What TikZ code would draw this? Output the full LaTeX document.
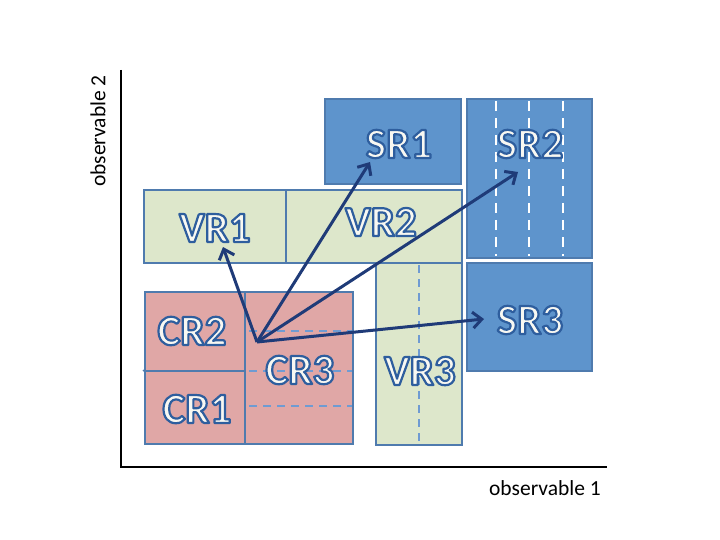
\documentclass[tikz,border=0pt]{standalone}
\usepackage{fontspec}
\setmainfont{Carlito}
\usetikzlibrary{arrows.meta}
\definecolor{srfill}{HTML}{5E94CC}
\definecolor{vrfill}{HTML}{DDE7CB}
\definecolor{crfill}{HTML}{E0A7A6}
\definecolor{boxline}{HTML}{4F7BAE}
\definecolor{dashblue}{HTML}{6F9BD2}
\definecolor{arrowcol}{HTML}{1F3B78}
\definecolor{lblfill}{HTML}{F8F8F2}
\newcommand{\outlined}[1]{\special{pdf:literal direct 2 Tr 2.2 w 1 j 0.18 0.37 0.62 RG}#1\special{pdf:literal direct 0 Tr}}
\tikzset{
  region/.style={draw=boxline, line width=1.6pt, inner sep=0pt},
  sr/.style={region, fill=srfill},
  vr/.style={region, fill=vrfill},
  cr/.style={region, fill=crfill},
  lbl/.style={inner sep=0pt, font=\fontsize{43}{43}\selectfont\bfseries, text=lblfill},
  axis/.style={line width=2.2pt, black},
  axlbl/.style={font=\fontsize{21.5}{21.5}\selectfont, inner sep=0pt},
  vec/.style={line width=3pt, draw=arrowcol, -{Straight Barb[length=9pt,width=16pt,line width=3pt]}},
  innerdash/.style={dashblue, line width=1.6pt, dash pattern=on 8pt off 6pt},
  whitedash/.style={white, line width=1.8pt, dash pattern=on 10pt off 7pt}
}
\begin{document}
\begin{tikzpicture}[x=1pt,y=-1pt]
\useasboundingbox (0,0) rectangle (720,540);
% axes
\coordinate (ax0) at (121,467);
\coordinate (axy) at (121,70);
\coordinate (axx) at (607,467);
\draw[axis] (axy) -- (ax0) -- (axx);
\node[axlbl, rotate=90] (ylab) at (98,131) {observable 2};
\node[axlbl] (xlab) at (545,488) {observable 1};
% signal regions
\node[sr, minimum width=136pt, minimum height=85pt] (SR1) at (393,141.5) {};
\node[sr, minimum width=125pt, minimum height=159pt] (SR2) at (529.5,178.5) {};
\node[sr, minimum width=125pt, minimum height=108pt] (SR3) at (529.5,317) {};
\foreach \xx in {496,529,563} \draw[whitedash] (\xx,101) -- (\xx,256);
% validation regions
\node[vr, minimum width=142pt, minimum height=73pt] (VR1) at (215,226.5) {};
\node[vr, minimum width=176pt, minimum height=73pt] (VR2) at (374,226.5) {};
\node[vr, minimum width=86pt, minimum height=182pt] (VR3) at (419,354) {};
\draw[innerdash] (419,265) -- (419,443);
% control regions
\node[cr, minimum width=108pt, minimum height=152pt] (CR3) at (299,368) {};
\node[cr, minimum width=100pt, minimum height=79pt] (CR2) at (195,331.5) {};
\node[cr, minimum width=100pt, minimum height=73pt] (CR1) at (195,407.5) {};
\draw[draw=boxline, line width=1.6pt] (143,371) -- (CR1.north west);
\foreach \yy in {331,371,406} \draw[innerdash] (249,\yy) -- (352,\yy);
% labels
\node[lbl] (tSR1) at (399,144) {\outlined{SR1}};
\node[lbl] (tSR2) at (530,144) {\outlined{SR2}};
\node[lbl] (tSR3) at (530,320) {\outlined{SR3}};
\node[lbl] (tVR1) at (215,228) {\outlined{VR1}};
\node[lbl] (tVR2) at (381,222) {\outlined{VR2}};
\node[lbl] (tVR3) at (420,371) {\outlined{VR3}};
\node[lbl] (tCR2) at (192,331) {\outlined{CR2}};
\node[lbl] (tCR1) at (197,409) {\outlined{CR1}};
\node[lbl] (tCR3) at (300,370) {\outlined{CR3}};
% extrapolation arrows
\coordinate (o) at (257,342);
\coordinate (pVR1) at (223,247);
\coordinate (pSR1) at (370,162);
\coordinate (pSR2) at (518,172);
\coordinate (pSR3) at (484,319);
\foreach \p in {pVR1,pSR1,pSR2,pSR3} \draw[vec] (o) -- (\p);
\end{tikzpicture}
\end{document}
